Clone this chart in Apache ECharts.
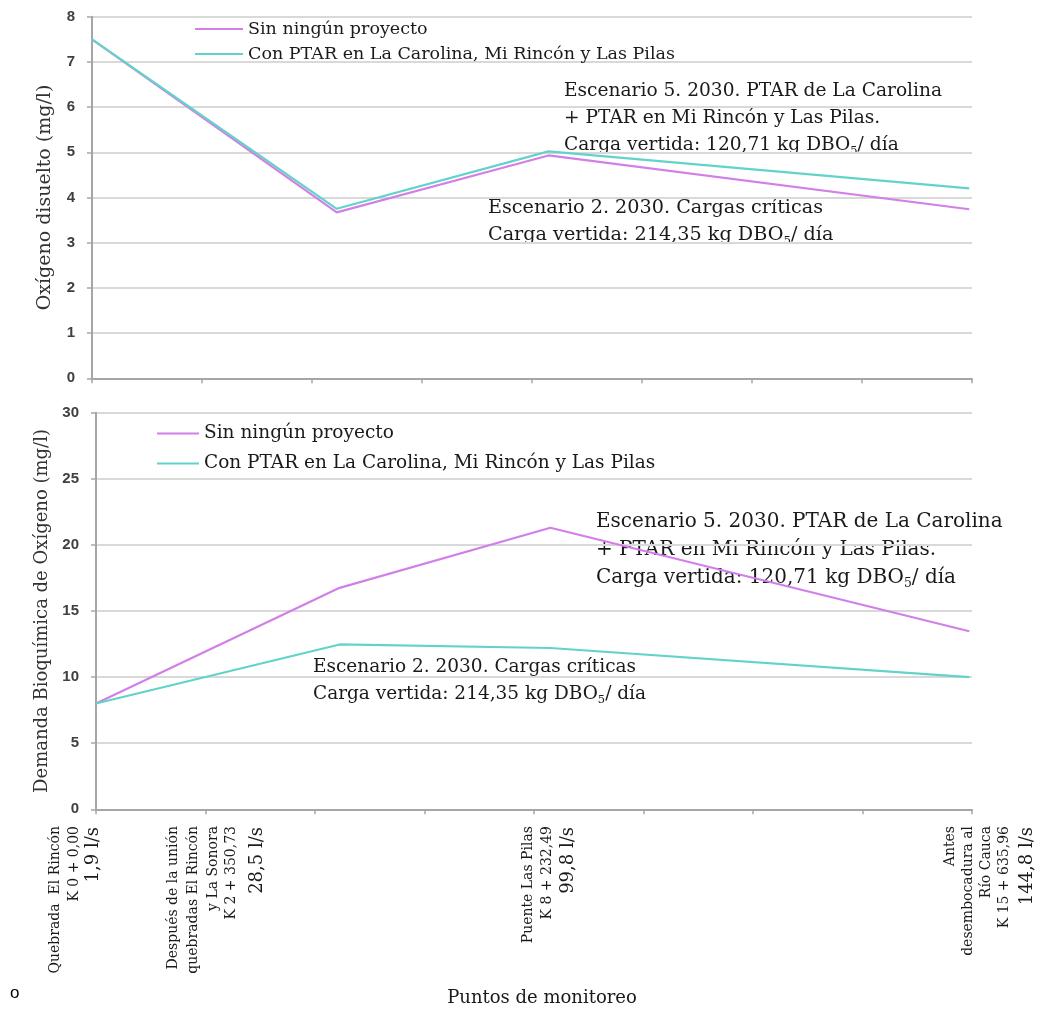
<!DOCTYPE html>
<html>
<head>
<meta charset="utf-8">
<script src="https://cdn.jsdelivr.net/npm/echarts@6/dist/echarts.min.js"></script>
<style>
  html, body { margin: 0; padding: 0; background: #ffffff; }
  #chart { width: 1044px; height: 1011px; }
</style>
</head>
<body>
<div id="chart"></div>
<script>
// Distance along the stream (km) for each monitoring point
const distanciaKm = [0, 4.45, 8.3, 15.95];

// Dissolved oxygen (mg/l)
const odSinProyecto = [7.5, 3.67, 4.93, 3.74];
const odConPtar = [7.5, 3.75, 5.02, 4.2];

// Biochemical oxygen demand (mg/l)
const dboSinProyecto = [8.0, 16.75, 21.3, 13.47];
const dboConPtar = [8.0, 12.47, 12.2, 10.0];

const nombresSeries = ['Sin ningún proyecto', 'Con PTAR en La Carolina, Mi Rincón y Las Pilas'];

// Monitoring point labels and flows
const puntosMonitoreo = [
  ['Quebrada  El Rincón', 'K 0 + 0,00'],
  ['Después de la unión', 'quebradas El Rincón', 'y La Sonora', 'K 2 + 350,73'],
  ['Puente Las Pilas', 'K 8 + 232,49'],
  ['Antes', 'desembocadura al', 'Río Cauca', 'K 15 + 635,96']
];
const caudales = ['1,9 l/s', '28,5 l/s', '99,8 l/s', '144,8 l/s'];

// Scenario notes ("₅" marks the subscript of DBO5)
const escenario5 = ['Escenario 5. 2030. PTAR de La Carolina', '+ PTAR en Mi Rincón y Las Pilas.', 'Carga vertida: 120,71 kg DBO₅/ día'];
const escenario2 = ['Escenario 2. 2030. Cargas críticas', 'Carga vertida: 214,35 kg DBO₅/ día'];

const SERIF_NAME = 'DejaVu Serif';
const SERIF = '"DejaVu Serif", "Liberation Serif", serif';
const COLOR_SIN = '#d27fe8';
const COLOR_CON = '#62d3c9';
const TEXT = '#1a1a1a';

function pares(ys) { return distanciaKm.map((x, i) => [x, ys[i]]); }

function ejeX(idx) {
  return {
    type: 'value', gridIndex: idx, min: 0, max: 16, interval: 2,
    axisLine: { show: true, lineStyle: { color: '#a6a6a6', width: 2 } },
    axisTick: { show: true, length: 5, lineStyle: { color: '#a6a6a6', width: 1.5 } },
    axisLabel: { show: false },
    splitLine: { show: false }
  };
}
function ejeY(idx, max, interval, name, gap, nameSize) {
  return {
    type: 'value', gridIndex: idx, min: 0, max: max, interval: interval,
    name: name, nameLocation: 'middle', nameGap: gap, nameRotate: 90,
    nameTextStyle: { fontFamily: SERIF, fontSize: nameSize, color: '#333333' },
    axisLine: { show: true, lineStyle: { color: '#a6a6a6', width: 2 } },
    axisTick: { show: true, length: 5, lineStyle: { color: '#a6a6a6', width: 1.5 } },
    axisLabel: { fontFamily: '"Liberation Sans", Arial, sans-serif', fontWeight: 'bold', fontSize: 15, color: '#404040', margin: 17 },
    splitLine: { show: true, lineStyle: { color: '#d9d9d9', width: 2 } }
  };
}
function serie(name, idx, ys, color) {
  return {
    name: name, type: 'line', xAxisIndex: idx, yAxisIndex: idx,
    data: pares(ys), symbol: 'none', smooth: false,
    lineStyle: { color: color, width: 2.2 }, itemStyle: { color: color },
    silent: true, animation: false
  };
}

const graficos = [];
const medidor = document.createElement('canvas').getContext('2d');
function ancho(txt, size) {
  medidor.font = size + 'px "' + SERIF_NAME + '"';
  return medidor.measureText(txt).width;
}
function texto(txt, x, y, size, align, extra) {
  return Object.assign({
    type: 'text', x: x, y: y, silent: true,
    style: { text: txt, fontFamily: SERIF, fontSize: size, fill: TEXT,
      textAlign: align, textVerticalAlign: 'middle', align: align, verticalAlign: 'middle' }
  }, extra || {});
}

// Rotated labels under the lower x axis
const posLineas = [[55, 74], [173, 193, 213, 231], [528, 547], [950, 968, 986, 1004]];
const posCaudal = [93, 257, 568, 1027];
puntosMonitoreo.forEach((lineas, g) => {
  lineas.forEach((l, k) => graficos.push(texto(l, posLineas[g][k], 826, 14, 'right', { rotation: Math.PI / 2 })));
  graficos.push(texto(caudales[g], posCaudal[g], 827, 18, 'right', { rotation: Math.PI / 2 }));
});

// Note lines, with a lowered small "5" after DBO
function linea(l, x, y, size) {
  const partes = l.split('₅');
  graficos.push(texto(partes[0], x, y, size, 'left'));
  if (partes.length > 1) {
    const w0 = ancho(partes[0], size);
    const sub = size * 0.62;
    graficos.push(texto('5', x + w0, y + size * 0.3, sub, 'left'));
    graficos.push(texto(partes[1], x + w0 + ancho('5', sub), y, size, 'left'));
  }
}
function bloque(lineas, x, y0, paso, size) {
  lineas.forEach((l, k) => linea(l, x, y0 + k * paso, size));
}
bloque(escenario5, 564, 91, 27, 18.6);
bloque(escenario2, 488, 208, 27, 19.2);
bloque(escenario5, 596, 522, 28, 20);
bloque(escenario2, 313, 667, 27, 18.5);

graficos.push(texto('Puntos de monitoreo', 542, 998, 18, 'center'));
graficos.push({
  type: 'text', x: 10, y: 993, silent: true,
  style: { text: 'o', fontFamily: '"Liberation Sans", Arial, sans-serif', fontSize: 17, fill: '#000000',
    textAlign: 'left', textVerticalAlign: 'middle', align: 'left', verticalAlign: 'middle' }
});

const option = {
  backgroundColor: '#ffffff',
  animation: false,
  grid: [
    { left: 92, right: 72, top: 16.7, height: 361.6, outerBoundsMode: 'none', containLabel: false },
    { left: 96, right: 72, top: 412.7, height: 396.6, outerBoundsMode: 'none', containLabel: false }
  ],
  legend: [
    { data: nombresSeries, orient: 'vertical', left: 195, top: 20, padding: 0, icon: 'rect',
      itemWidth: 48, itemHeight: 2, itemGap: 7,
      selectedMode: false, textStyle: { fontFamily: SERIF, fontSize: 17.5, color: TEXT, lineHeight: 14 } },
    { data: nombresSeries, orient: 'vertical', left: 157, top: 424, padding: 0, icon: 'rect',
      itemWidth: 42, itemHeight: 2, itemGap: 11,
      selectedMode: false, textStyle: { fontFamily: SERIF, fontSize: 18.5, color: TEXT, lineHeight: 14 } }
  ],
  xAxis: [ejeX(0), ejeX(1)],
  yAxis: [
    ejeY(0, 8, 1, 'Oxígeno disuelto (mg/l)', 37, 19),
    ejeY(1, 30, 5, 'Demanda Bioquímica de Oxígeno (mg/l)', 45, 18)
  ],
  series: [
    serie(nombresSeries[0], 0, odSinProyecto, COLOR_SIN),
    serie(nombresSeries[1], 0, odConPtar, COLOR_CON),
    serie(nombresSeries[0], 1, dboSinProyecto, COLOR_SIN),
    serie(nombresSeries[1], 1, dboConPtar, COLOR_CON)
  ],
  graphic: graficos
};

const chart = echarts.init(document.getElementById('chart'), null, { renderer: 'canvas' });
chart.setOption(option);
</script>
</body>
</html>
